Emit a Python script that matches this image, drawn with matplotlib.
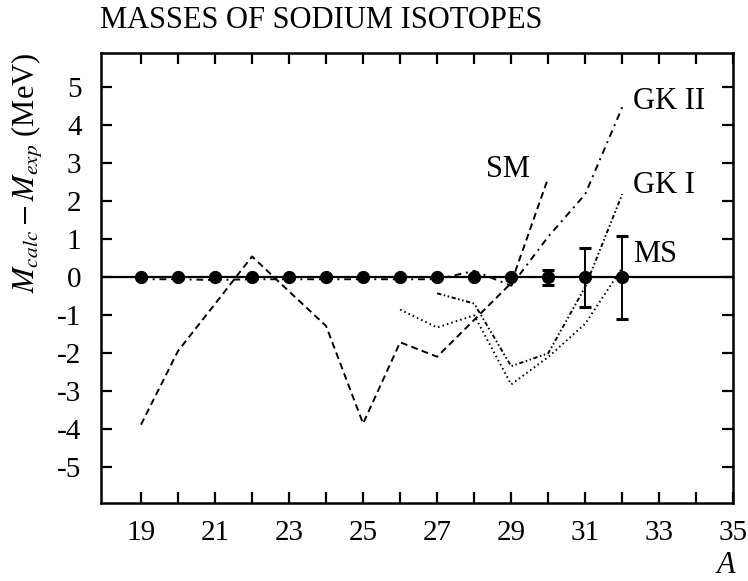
import matplotlib
matplotlib.use("Agg")
import matplotlib.pyplot as plt
import numpy as np

plt.rcParams['font.family'] = ['Liberation Serif', 'DejaVu Serif']
plt.rcParams['mathtext.fontset'] = 'stix'
plt.rcParams['axes.unicode_minus'] = False

# experimental masses (reference, deviation = 0) with uncertainties
A_exp = [19, 20, 21, 22, 23, 24, 25, 26, 27, 28, 29, 30, 31, 32]
dM_exp = [0, 0, 0, 0, 0, 0, 0, 0, 0, 0, 0, 0, 0, 0]
err_exp = [0, 0, 0, 0, 0, 0, 0, 0, 0, 0, 0, 0.2, 0.77, 1.1]

# shell model
A_sm = [19, 20, 21, 22, 23, 24, 25, 26, 27, 28, 29, 30]
dM_sm = [-3.88, -1.94, -0.70, 0.55, -0.37, -1.28, -3.85, -1.71, -2.09, -1.12, -0.15, 2.62]

# Garvey-Kelson II
A_gk2 = [19, 20, 21, 22, 23, 24, 25, 26, 27, 28, 29, 30, 31, 32]
dM_gk2 = [-0.05, -0.05, -0.07, -0.05, -0.05, -0.05, -0.05, -0.05, -0.05, 0.17, -0.22, 1.07, 2.19, 4.48]

# Garvey-Kelson I
A_gk1 = [27, 28, 29, 30, 31, 32]
dM_gk1 = [-0.42, -0.69, -2.34, -2.0, -0.25, 2.19]

# MS
A_ms = [26, 27, 28, 29, 30, 31, 32]
dM_ms = [-0.85, -1.32, -1.0, -2.82, -2.1, -1.22, 0.25]

W, H = 748, 581
fig = plt.figure(figsize=(W / 100, H / 100), dpi=100)
ax = fig.add_axes([101 / W, 1 - 503.3 / H, (733.3 - 101) / W, (503.3 - 53.3) / H])

ax.axhline(0, color='black', lw=1.6, zorder=2)

lw = 1.4
ax.plot(A_sm, dM_sm, color='black', lw=lw, ls=(0, (3.5, 2.2)))
ax.plot(A_gk2, dM_gk2, color='black', lw=lw, ls=(0, (3.5, 2.5, 1, 2.5)))
ax.plot(A_gk1, dM_gk1, color='black', lw=lw, ls=(0, (2.2, 1.3, 0.8, 1.3, 0.8, 1.3)))
ax.plot(A_ms, dM_ms, color='black', lw=lw, ls=(0, (0.8, 1.6)))

ax.errorbar(A_exp, dM_exp, yerr=err_exp, fmt='o', color='black', ms=8.5,
            elinewidth=1.4, capsize=4.2, capthick=2.2, zorder=4)

fs = 22
ax.text(28.33, 2.63, 'SM', fontsize=fs, ha='left', va='baseline')
ax.text(32.29, 4.43, 'GK II', fontsize=fs, ha='left', va='baseline')
ax.text(32.29, 2.23, 'GK I', fontsize=fs, ha='left', va='baseline')
ax.text(32.29, 0.40, 'MS', fontsize=fs, ha='left', va='baseline')

ax.set_xlim(17.92, 35)
ax.set_ylim(-5.95, 5.9)

xt = np.arange(19, 36)
ax.set_xticks(xt)
ax.set_xticklabels([str(v) if v % 2 == 1 else '' for v in xt])
ax.set_yticks(np.arange(-5, 6))
ax.set_yticklabels([str(v) for v in range(-5, 6)])
ax.tick_params(direction='in', top=True, right=True, length=8, width=1.6,
               labelsize=21)
ax.tick_params(axis='x', pad=12)
ax.tick_params(axis='y', pad=14)
for s in ax.spines.values():
    s.set_linewidth(1.8)

fig.text(100 / W, 1 - 28.3 / H, 'MASSES OF SODIUM ISOTOPES', fontsize=fs,
         ha='left', va='baseline')
fig.text(28 / W, 1 - 173 / H, r'$M_{calc} - M_{exp}$ (MeV)', fontsize=fs,
         rotation=90, ha='center', va='center')
fig.text(735 / W, 1 - 573 / H, 'A', fontsize=fs, style='italic',
         ha='right', va='baseline')

fig.savefig('out.png', dpi=100)
